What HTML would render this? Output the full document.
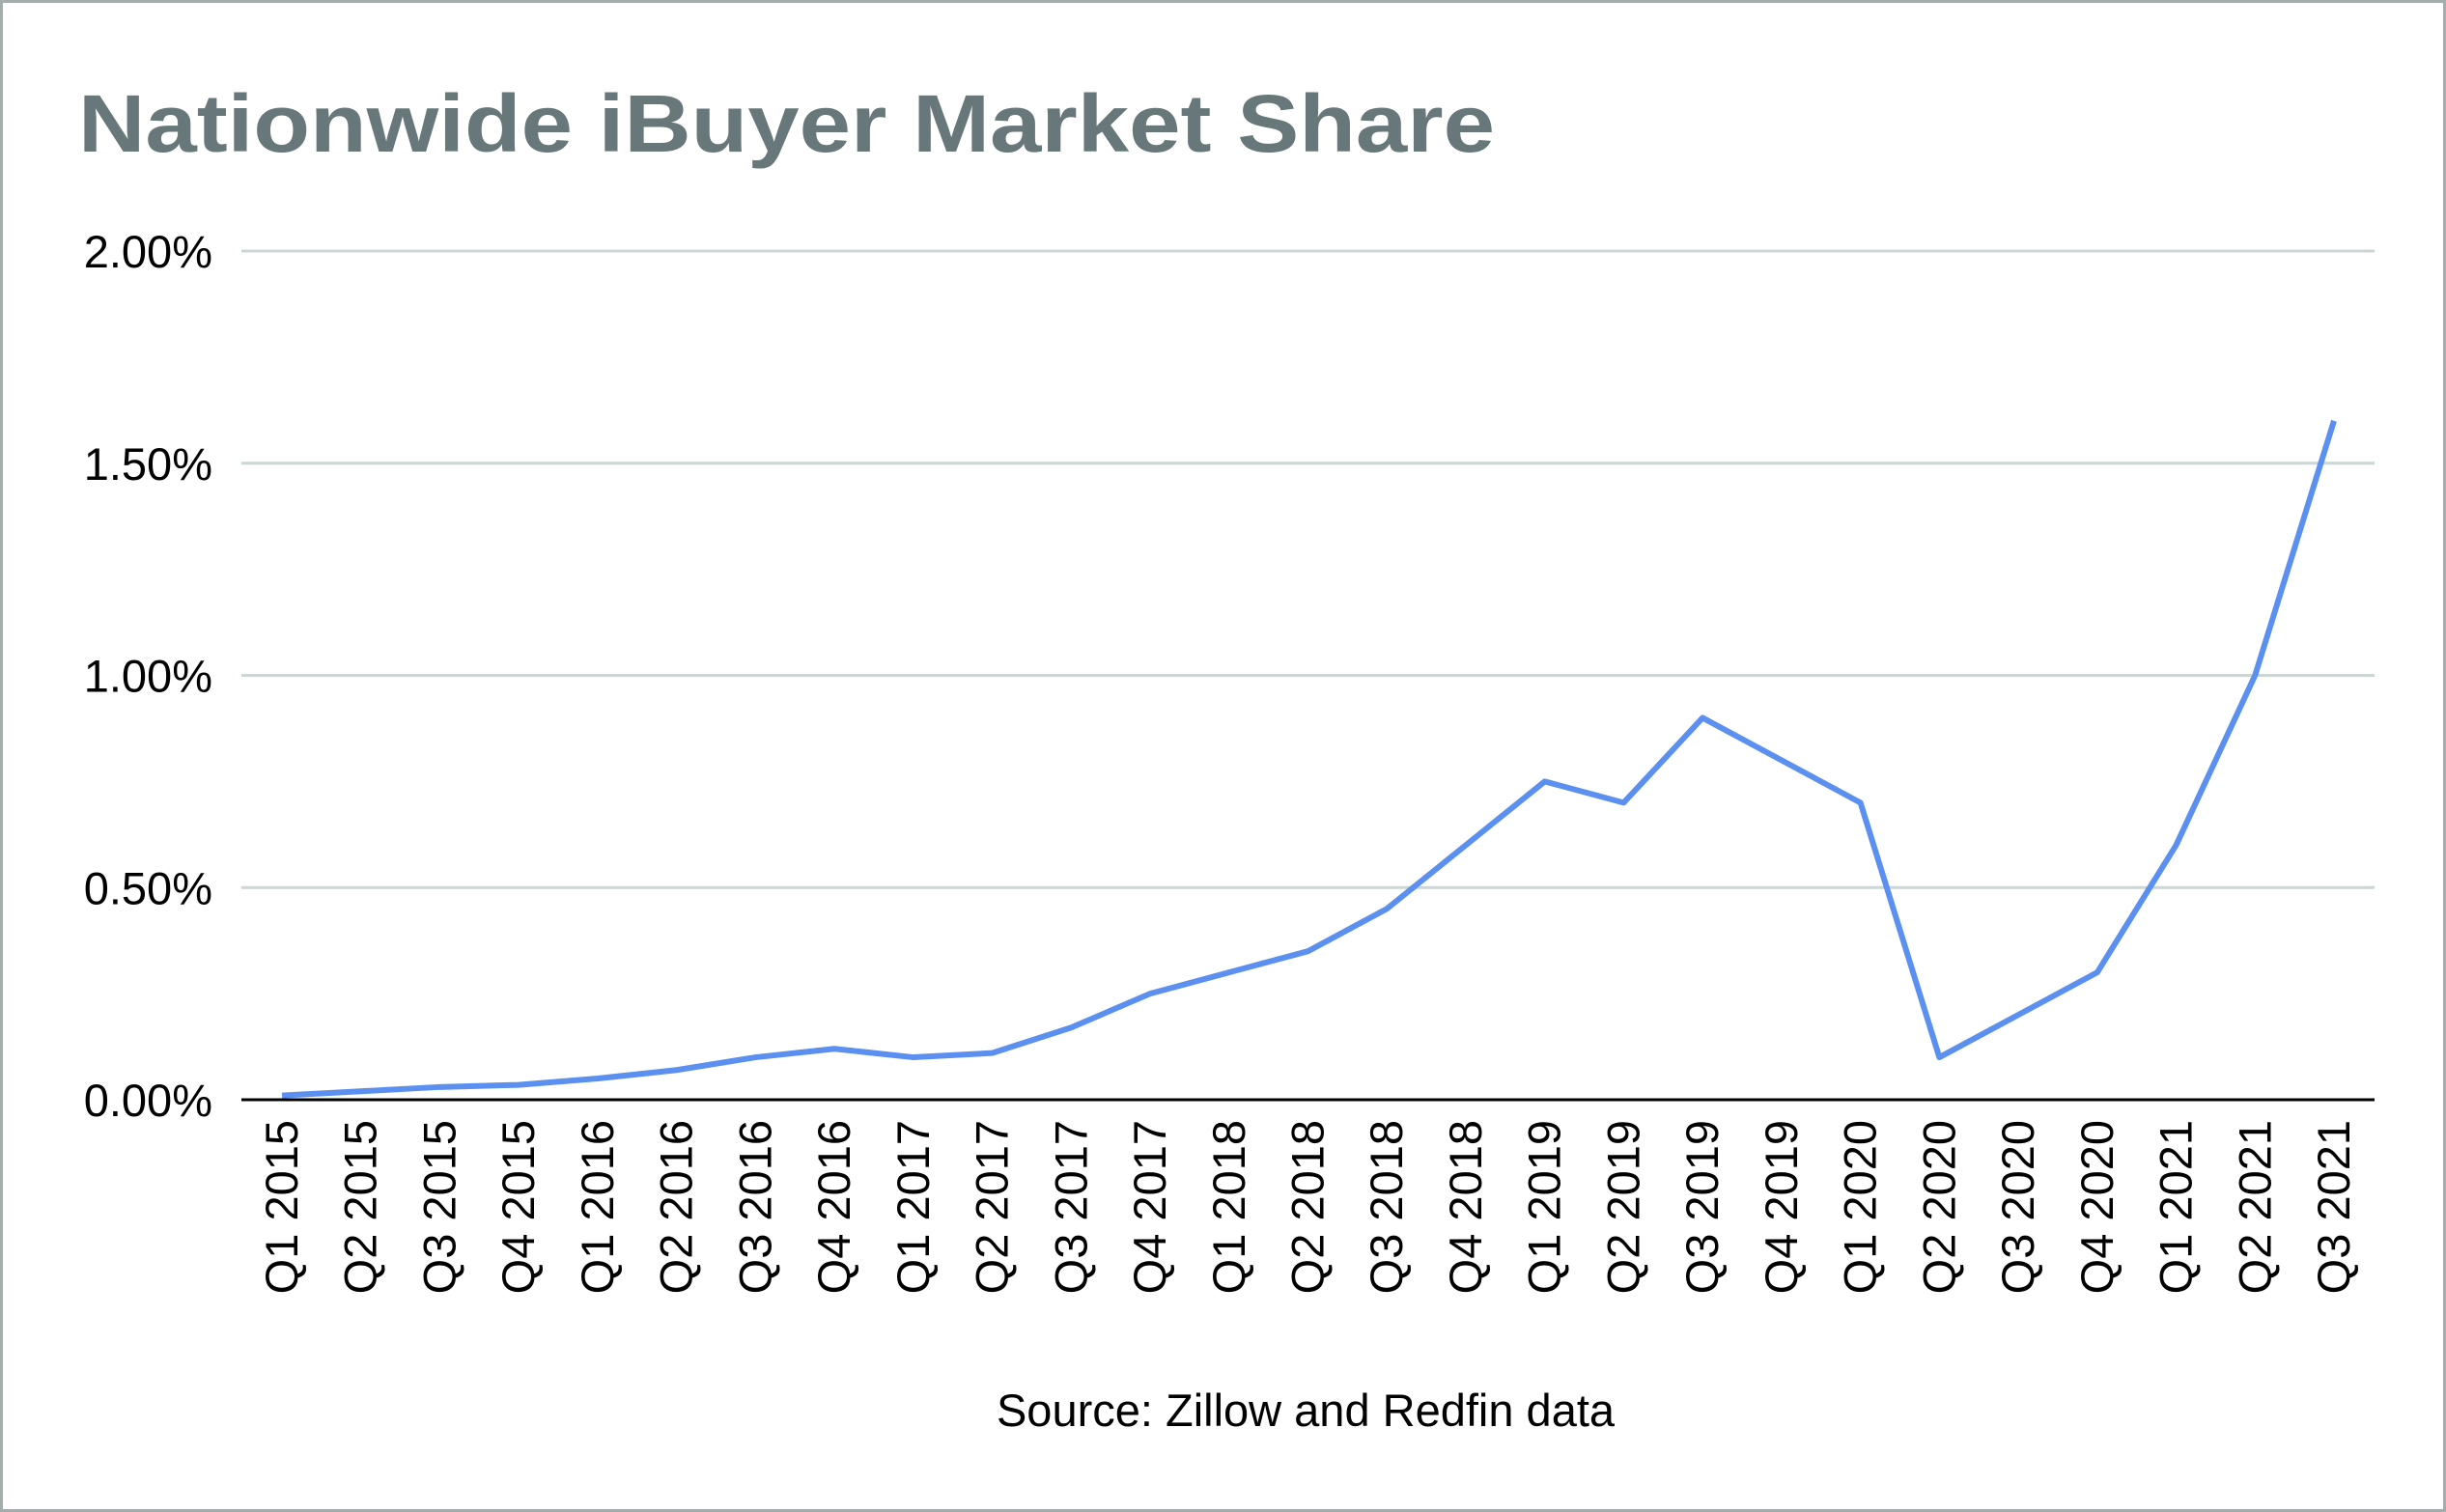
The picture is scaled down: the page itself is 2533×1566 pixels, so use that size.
<!DOCTYPE html>
<html><head><meta charset="utf-8"><style>
html,body{margin:0;padding:0;background:#fff}
svg{display:block;font-family:"Liberation Sans",Arial,sans-serif}
</style></head><body>
<svg id="chart" width="2533" height="1566" viewBox="0 0 2533 1566">
<rect x="1.5" y="1.5" width="2530" height="1563" fill="#fff" stroke="#a3adab" stroke-width="3"/>
<text x="81" y="157" font-size="84" font-weight="bold" fill="#67777a" textLength="1467" lengthAdjust="spacingAndGlyphs">Nationwide iBuyer Market Share</text>
<g id="grid"></g><g id="yticks"></g><g id="xticks"></g><g id="series"></g>
<text x="1352" y="1477" font-size="47" text-anchor="middle" fill="#000">Source: Zillow and Redfin data</text>
</svg>
<script>
const categories=["Q1 2015","Q2 2015","Q3 2015","Q4 2015","Q1 2016","Q2 2016","Q3 2016","Q4 2016","Q1 2017","Q2 2017","Q3 2017","Q4 2017","Q1 2018","Q2 2018","Q3 2018","Q4 2018","Q1 2019","Q2 2019","Q3 2019","Q4 2019","Q1 2020","Q2 2020","Q3 2020","Q4 2020","Q1 2021","Q2 2021","Q3 2021"];
const shareValues=[0.01,0.02,0.03,0.035,0.05,0.07,0.10,0.12,0.10,0.11,0.17,0.25,0.30,0.35,0.45,0.60,0.75,0.70,0.90,0.80,0.70,0.10,0.20,0.30,0.60,1.00,1.60];
const yTicks=[0,0.5,1.0,1.5,2.0];
const yTickLabels=["0.00%","0.50%","1.00%","1.50%","2.00%"];
const NS="http://www.w3.org/2000/svg";
const x0=292,x1=2417,y0=1139,y1=260,gx0=250,gx1=2459;
function xScale(i){return x0+(x1-x0)*i/(categories.length-1);}
function yScale(v){return y0+(y1-y0)*v/2.0;}
function mk(t,a,p){const e=document.createElementNS(NS,t);for(const k in a)e.setAttribute(k,a[k]);p.appendChild(e);return e;}
const grid=document.getElementById('grid'),yt=document.getElementById('yticks'),xt=document.getElementById('xticks'),ser=document.getElementById('series');
yTicks.forEach((v,i)=>{
  const y=yScale(v);
  const l=mk('line',{x1:gx0,x2:gx1,y1:y,y2:y,stroke:v===0?'#000':'#ccd6d4','stroke-width':3},grid);
  
  
  const t=mk('text',{x:220,y:y+17,'font-size':47,'text-anchor':'end',fill:'#000'},yt);
  
  
  t.textContent=yTickLabels[i];
});
categories.forEach((c,i)=>{
  const x=xScale(i)+16;
  const t=mk('text',{x:x,y:1160,'font-size':47,'text-anchor':'end',fill:'#000',transform:'rotate(-90 '+x+' 1160)'},xt);
  
  
  t.textContent=c;
});
const pts=shareValues.map((v,i)=>xScale(i)+','+yScale(v)).join(' ');
const pl=mk('polyline',{points:pts,fill:'none',stroke:'#5b8ff0','stroke-width':6,'stroke-linejoin':'round'},ser);


</script>
</body></html>
